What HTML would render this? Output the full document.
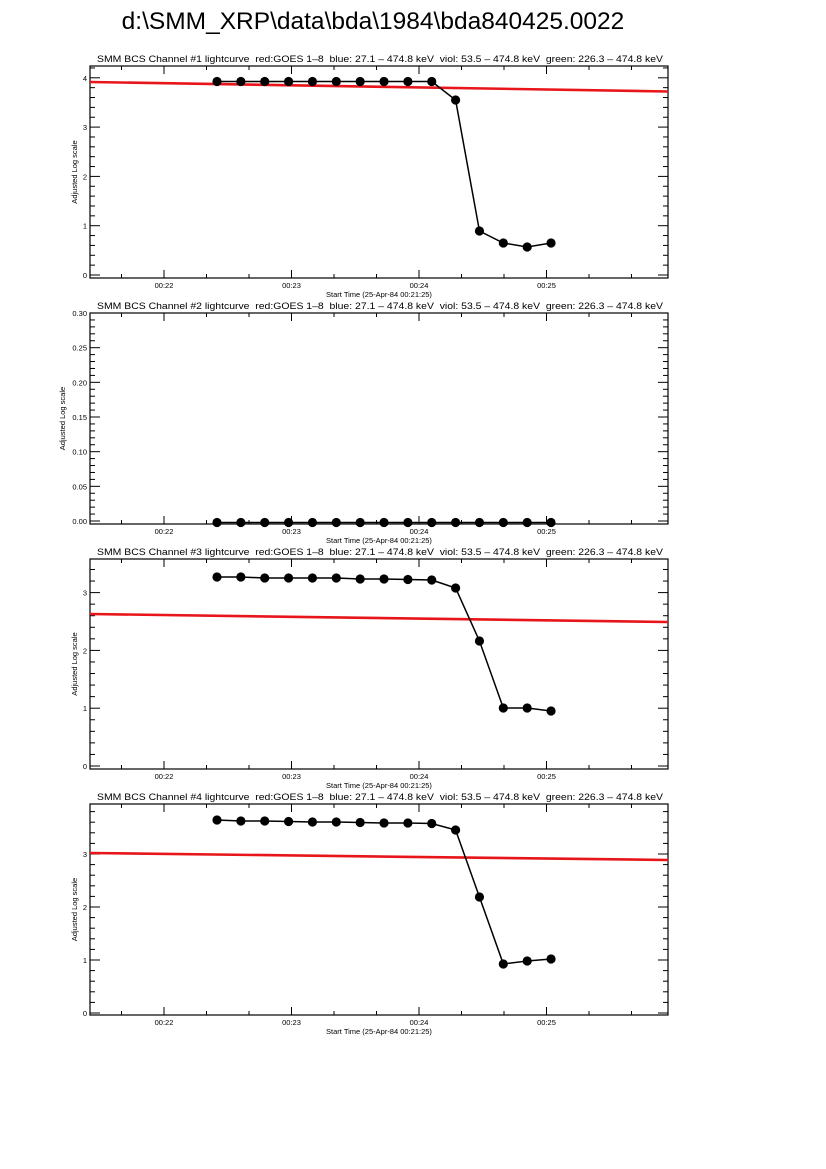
<!DOCTYPE html>
<html><head><meta charset="utf-8"><style>
html,body{margin:0;padding:0;background:#fff;}
svg{display:block;font-family:"Liberation Sans",sans-serif;}
text{white-space:pre;}
</style></head><body>
<svg id="s" width="826" height="1169" xmlns="http://www.w3.org/2000/svg">
<rect width="826" height="1169" fill="#fff"/>
<text x="373" y="29" font-size="24.5" text-anchor="middle" fill="#000">d:\SMM_XRP\data\bda\1984\bda840425.0022</text>
</svg>
<script>
const s=document.getElementById('s');const NS='http://www.w3.org/2000/svg';
function el(t,a,txt){const e=document.createElementNS(NS,t);for(const k in a)e.setAttribute(k,a[k]);if(txt!==undefined)e.textContent=txt;s.appendChild(e);return e;}
const X0=90,X1=668;
const xs=[];for(let i=0;i<15;i++)xs.push(217+i*23.86);
const panels=[
 {n:1,top:66,bot:278,y0:275,ppu:49.3,step:1,lab:['0','1','2','3','4'],
  pts:[81.5,81.5,81.5,81.5,81.5,81.5,81.5,81.5,81.5,81.5,100,231,243,247,243],red:[82,91.5]},
 {n:2,top:313,bot:524,y0:521,ppu:693.3,step:0.05,lab:['0.00','0.05','0.10','0.15','0.20','0.25','0.30'],
  pts:Array(15).fill(522.5),red:null},
 {n:3,top:559,bot:769,y0:766,ppu:57.8,step:1,lab:['0','1','2','3'],
  pts:[577,577,578,578,578,578,579,579,579.5,580,588,641,708,708,711],red:[614,622]},
 {n:4,top:804,bot:1015,y0:1013,ppu:53,step:1,lab:['0','1','2','3'],
  pts:[820,821,821,821.5,822,822,822.5,823,823,823.5,830,897,964,961,959],red:[853,860]}
];
const hdr=' lightcurve  red:GOES 1\u20138  blue: 27.1 \u2013 474.8 keV  viol: 53.5 \u2013 474.8 keV  green: 226.3 \u2013 474.8 keV';
for(const p of panels){
 el('text',{x:380,y:p.top-4,'font-size':9.3,'text-anchor':'middle',textLength:566,lengthAdjust:'spacingAndGlyphs'},'SMM BCS Channel #'+p.n+hdr);
 el('rect',{x:X0,y:p.top,width:X1-X0,height:p.bot-p.top,fill:'none',stroke:'#000','stroke-width':1.2});
 const minor=p.step/5;
 for(let k=0;;k++){const v=k*minor;let y=p.y0-v*p.ppu;if(y<p.top-1.5)break;if(y<p.top)y=p.top;
  const maj=(k%5===0);const L=maj?10:5;
  el('line',{x1:X0,y1:y,x2:X0+L,y2:y,stroke:'#000','stroke-width':1});
  el('line',{x1:X1,y1:y,x2:X1-L,y2:y,stroke:'#000','stroke-width':1});
  if(maj){el('text',{x:X0-3,y:y+3,'font-size':7.5,'text-anchor':'end'},p.lab[k/5]);}
 }
 const maj=[164,291.5,419,546.5],ml=['00:22','00:23','00:24','00:25'];
 for(let x=121.5;x<X1;x+=42.5){const isM=maj.some(m=>Math.abs(m-x)<1);const L=isM?8:4;
  el('line',{x1:x,y1:p.bot,x2:x,y2:p.bot-L,stroke:'#000','stroke-width':1});
  el('line',{x1:x,y1:p.top,x2:x,y2:p.top+L,stroke:'#000','stroke-width':1});}
 maj.forEach((m,i)=>el('text',{x:m,y:p.bot+10,'font-size':7.5,'text-anchor':'middle'},ml[i]));
 el('text',{x:379,y:p.bot+19,'font-size':7.5,'text-anchor':'middle'},'Start Time (25-Apr-84 00:21:25)');
 const cy=(p.top+p.bot)/2;
 el('text',{x:0,y:0,'font-size':7.5,'text-anchor':'middle',transform:'translate('+(p.n==2?65:77)+','+cy+') rotate(-90)'},'Adjusted Log scale');
 if(p.red)el('line',{x1:X0,y1:p.red[0],x2:X1,y2:p.red[1],stroke:'#e8161a','stroke-width':2.6});
 el('polyline',{points:xs.map((x,i)=>x+','+p.pts[i]).join(' '),fill:'none',stroke:'#000','stroke-width':1.5});
 xs.forEach((x,i)=>el('circle',{cx:x,cy:p.pts[i],r:4.6,fill:'#000'}));
}
</script>
</body></html>
